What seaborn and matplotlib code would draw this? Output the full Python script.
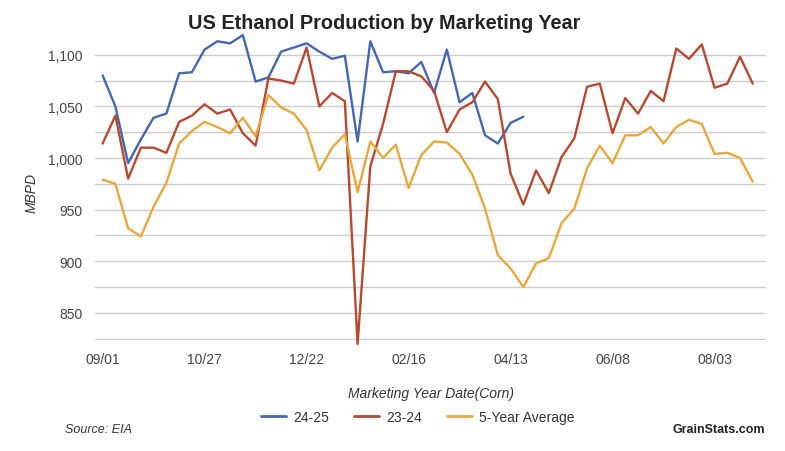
import numpy as np
import pandas as pd
import seaborn as sns
import matplotlib.pyplot as plt

# weekly values, week 0 = 09/01
prod_2425 = [1080, 1050, 995, 1018, 1039, 1043, 1082, 1083, 1105, 1113,
             1111, 1119, 1074, 1078, 1103, 1107, 1111, 1103, 1096, 1099,
             1016, 1113, 1083, 1084, 1082, 1093, 1063, 1105, 1054, 1063,
             1022, 1014, 1034, 1040]
prod_2324 = [1014, 1041, 980, 1010, 1010, 1005, 1035, 1041, 1052, 1043,
             1047, 1024, 1012, 1077, 1075, 1072, 1107, 1050, 1063, 1055,
             820, 992, 1033, 1084, 1084, 1079, 1065, 1025, 1047, 1054,
             1074, 1057, 985, 955, 988, 966, 1001, 1019, 1069, 1072,
             1024, 1058, 1043, 1065, 1055, 1106, 1096, 1110, 1068, 1072,
             1098, 1072]
avg_5yr = [979, 975, 932, 924, 953, 976, 1014, 1026, 1035, 1030,
           1024, 1039, 1021, 1061, 1049, 1043, 1027, 988, 1010, 1023,
           967, 1016, 1000, 1013, 971, 1003, 1016, 1015, 1004, 984,
           951, 906, 893, 875, 898, 903, 937, 951, 990, 1012,
           995, 1022, 1022, 1030, 1014, 1030, 1037, 1033, 1004, 1005,
           1000, 977]
tick_weeks = [0, 8, 16, 24, 32, 40, 48]
tick_labels = ['09/01', '10/27', '12/22', '02/16', '04/13', '06/08', '08/03']
series_names = ['24-25', '23-24', '5-Year Average']
colors = ['#4566b0', '#b54a31', '#e6a83e']

df = pd.concat([
    pd.DataFrame({'week': np.arange(len(v)), 'value': v, 'series': name})
    for name, v in zip(series_names, [prod_2425, prod_2324, avg_5yr])
])

sns.set_style('white')
plt.rcParams['font.family'] = ['Liberation Sans', 'DejaVu Sans']

fig = plt.figure(figsize=(7.85, 4.52), dpi=100)
ax = fig.add_axes([0.121, 0.246, 0.855, 0.681])

sns.lineplot(data=df, x='week', y='value', hue='series', hue_order=series_names,
             palette=colors, linewidth=1.7, ax=ax, legend=False, clip_on=False)

ax.set_xlim(-0.6, 52.05)
ax.set_ylim(824, 1122)
ax.set_yticks(np.arange(825, 1101, 25))
ax.set_yticklabels(['' if v % 50 else f'{v:,}' for v in range(825, 1101, 25)])
ax.set_xticks(tick_weeks)
ax.set_xticklabels(tick_labels)
ax.tick_params(axis='both', length=0, labelsize=10, colors='#444444')
ax.tick_params(axis='x', pad=9)
ax.tick_params(axis='y', pad=9)
ax.grid(axis='y', color='#cccccc', linewidth=1)
ax.set_axisbelow(True)
for s in ax.spines.values():
    s.set_visible(False)

ax.set_xlabel('Marketing Year Date(Corn)', fontsize=10, style='italic', color='#333333', labelpad=14)
ax.set_ylabel('MBPD', fontsize=10, style='italic', color='#333333')
ax.yaxis.set_label_coords(-0.084, 0.48)

fig.text(0.49, 0.948, 'US Ethanol Production by Marketing Year', ha='center', va='center',
         fontsize=14.3, fontweight='bold', color='#222222')

handles = [plt.Line2D([0], [0], color=c, linewidth=2) for c in colors]
fig.legend(handles, series_names, loc='center', bbox_to_anchor=(0.532, 0.076), ncol=3,
           frameon=False, fontsize=10, handlelength=1.8, handletextpad=0.5,
           columnspacing=1.8, labelcolor='#333333')

fig.text(0.083, 0.048, 'Source: EIA', fontsize=9, style='italic', color='#333333', va='center')
fig.text(0.975, 0.048, 'GrainStats.com', fontsize=9, fontweight='bold', color='#222222',
         ha='right', va='center')

fig.savefig('out.png', dpi=100)
